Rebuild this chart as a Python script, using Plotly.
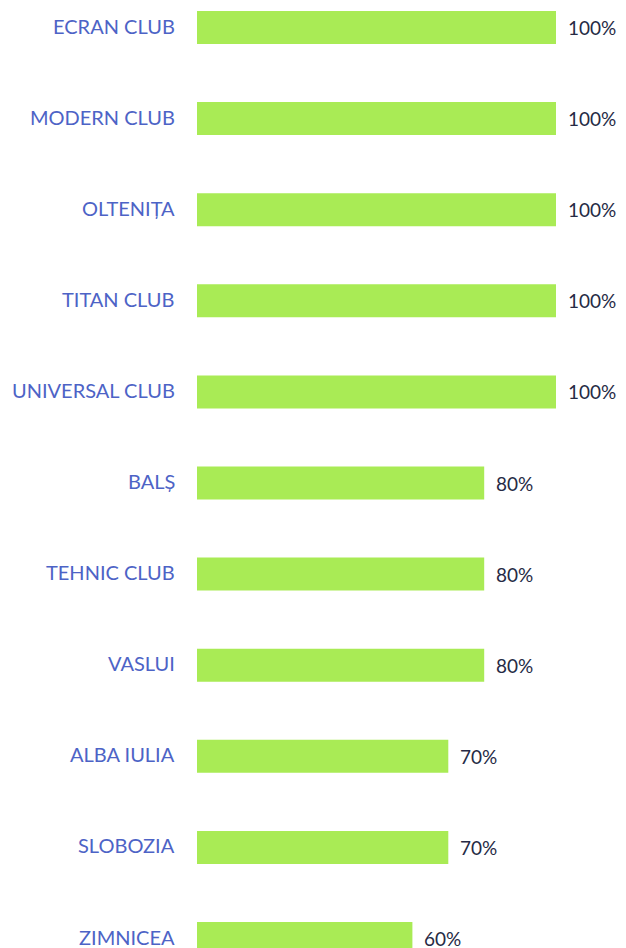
import plotly.graph_objects as go

categories = ["ECRAN CLUB", "MODERN CLUB", "OLTENIȚA", "TITAN CLUB", "UNIVERSAL CLUB",
              "BALȘ", "TEHNIC CLUB", "VASLUI", "ALBA IULIA", "SLOBOZIA", "ZIMNICEA"]
values = [100, 100, 100, 100, 100, 80, 80, 80, 70, 70, 60]
value_labels = [f"{v}%" for v in values]

BAR = "#a9eb55"
CAT = "#4d63c6"
VAL = "#262a45"
FONT = "Lato"

fig = go.Figure(go.Bar(
    x=values, y=categories, orientation="h",
    marker=dict(color=BAR, line=dict(width=0)),
    width=0.362, hoverinfo="skip",
))

for c, v, t in zip(categories, values, value_labels):
    fig.add_annotation(x=v, y=c, xref="x", yref="y", text=t, showarrow=False,
                       xanchor="left", xshift=10, yshift=0,
                       font=dict(family=FONT, size=19, color=VAL))
    fig.add_annotation(x=0, y=c, xref="paper", yref="y", text=c, showarrow=False,
                       xanchor="right", xshift=-20, yshift=2,
                       font=dict(family=FONT, size=20, color=CAT))

fig.update_layout(
    width=618, height=940,
    margin=dict(l=189, r=0, t=0, b=0),
    paper_bgcolor="white", plot_bgcolor="white",
    showlegend=False,
    xaxis=dict(range=[0, 119.5], visible=False, fixedrange=True),
    yaxis=dict(range=[10.104, -0.214], visible=False, categoryorder="array",
               categoryarray=categories, fixedrange=True),
)

fig.write_html("out.html")
